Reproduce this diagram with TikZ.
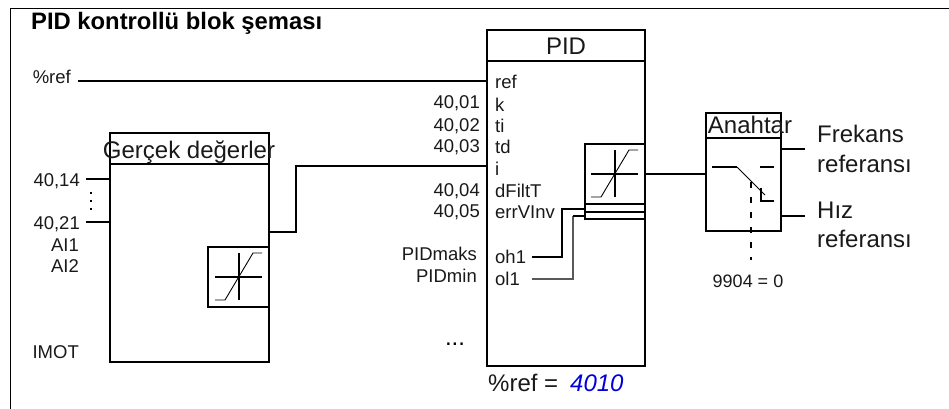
\documentclass[tikz,border=0pt]{standalone}
\usepackage{fontspec}
\setmainfont{Liberation Sans}
\tikzset{
  x=1pt,y=-1pt,
  thk/.style={line width=1.5pt,draw=black},
  boxs/.style={draw=black,line width=1.5pt,inner sep=0pt},
  wire/.style={line width=1.4pt,draw=black,line cap=butt},
  thinw/.style={line width=0.8pt,draw=black},
  lab/.style={inner sep=0pt,font=\fontsize{18.5}{18.5}\selectfont,text=black!90},
  rl/.style={lab,anchor=base east},
  ll/.style={lab,anchor=base west},
  big/.style={inner sep=0pt,font=\fontsize{24}{24}\selectfont,text=black!90},
}
\newcommand{\satur}[2]{% centre x,y
  \draw[line width=1.4pt] (#1,#2-24) -- (#1,#2+23);
  \draw[line width=1.4pt] (#1-24,#2) -- (#1+23,#2);
  \draw[line width=0.9pt] (#1-24,#2+23) -- (#1-14,#2+23) -- (#1+14,#2-24) -- (#1+23,#2-24);
}
\begin{document}
\begin{tikzpicture}
\useasboundingbox (0,0) rectangle (949,409);
\draw[line width=1pt] (10.5,409) -- (10.5,8.5) -- (949,8.5);
\node[anchor=base west,inner sep=0pt,font=\fontsize{23.8}{24}\selectfont\bfseries] (title) at (31,30) {PID kontrollü blok şeması};
% Actual values block
\node[boxs,minimum width=159pt,minimum height=229pt] (av) at (189.5,247.5) {};
\coordinate (avsplit1) at (110,164); \coordinate (avsplit2) at (269,164);
\draw[thk] (avsplit1) -- (avsplit2);
\node[big,anchor=base] (avt) at (189,158) {Gerçek değerler};
\node[boxs,minimum width=61pt,minimum height=60pt] (avs) at (238.5,277) {};
\satur{239}{277}
\node[rl] (a1) at (80,186) {40,14};
\node[rl] (a2) at (80,229) {40,21};
\node[rl] (a3) at (79,251) {AI1};
\node[rl] (a4) at (79,272) {AI2};
\node[rl] (a5) at (79,358) {IMOT};
\coordinate (a1e) at (86,179); \coordinate (a1i) at (110,179);
\coordinate (a2e) at (86,222); \coordinate (a2i) at (110,222);
\draw[wire] (a1e) -- (a1i);
\draw[wire] (a2e) -- (a2i);
\coordinate (vd1) at (91,192); \coordinate (vd2) at (91,212);
\draw[line width=1.3pt,dash pattern=on 2pt off 6pt] (vd1) -- (vd2);
% PID block
\node[boxs,minimum width=158pt,minimum height=336pt] (pid) at (566,198) {};
\coordinate (ps1) at (487,61); \coordinate (ps2) at (645,61);
\draw[thk] (ps1) -- (ps2);
\node[big,anchor=base] (pidt) at (566,55) {PID};
\foreach \n/\t/\y in {r/ref/89,k/k/111,ti/ti/132,td/td/153,i/i/175,d/dFiltT/197,e/errVInv/218,o/oh1/263,l/ol1/285}
  \node[ll] (p\n) at (495,\y) {\t};
\foreach \n/\y in {1/109,2/131,3/152,4/196,5/217}
  \node[rl] (q\n) at (480,\y) {40,0\n};
\node[rl] (pm) at (477,260) {PIDmaks};
\node[rl] (pn) at (477,282) {PIDmin};
\node[anchor=base,inner sep=0pt,font=\fontsize{24}{24}\selectfont] (dots) at (455,345) {...};
% saturation in PID
\node[boxs,minimum width=60pt,minimum height=60pt] (ps) at (615,174) {};
\satur{615}{174}
\node[boxs,minimum width=60pt,minimum height=15pt] (pb) at (615,211.5) {};
\coordinate (pbm1) at (585,212); \coordinate (pbm2) at (645,212);
\draw[thk] (pbm1) -- (pbm2);
% Wires
\node[lab,anchor=base east] (pr) at (71,84) {\%ref};
\coordinate (rs) at (78,81); \coordinate (re) at (487,81);
\draw[wire] (rs) -- (re);
\coordinate (av1) at (269,232); \coordinate (av2) at (296,232); \coordinate (av3) at (296,166); \coordinate (pi) at (487,166);
\draw[wire] (av1) -- (av2) -- (av3) -- (pi);
\coordinate (oh) at (532,257); \coordinate (oh2) at (562,257); \coordinate (oh3) at (562,209); \coordinate (oh4) at (585,209);
\draw[wire] (oh) -- (oh2) -- (oh3) -- (oh4);
\coordinate (ol) at (532,279); \coordinate (ol2) at (573,279); \coordinate (ol3) at (573,216); \coordinate (ol4) at (585,216);
\draw[line width=1.1pt,draw=black!65] (ol) -- (ol2) -- (ol3);
\draw[wire] (ol3) -- (ol4);
\node[anchor=base west,inner sep=0pt,font=\fontsize{24}{24}\selectfont,text=black!90] (pe) at (488,391) {\%ref =};
\node[anchor=base west,inner sep=0pt,font=\fontsize{24}{24}\selectfont\itshape,text=blue!85!black] (pv) at (570,391) {4010};
% Switch
\node[boxs,minimum width=75pt,minimum height=118pt] (sw) at (743.5,172) {};
\coordinate (sws1) at (706,138); \coordinate (sws2) at (781,138);
\draw[thk] (sws1) -- (sws2);
\node[big,anchor=base] (swt) at (750,133) {Anahtar};
\coordinate (pout) at (645,174); \coordinate (swin) at (706,174);
\draw[wire] (pout) -- (swin);
\coordinate (c1) at (712,167); \coordinate (c2) at (737,167); \coordinate (c3) at (765,195);
\draw[wire] (c1) -- (c2);
\draw[thinw] (c2) -- (c3);
\coordinate (c4) at (760,167); \coordinate (c5) at (774,167);
\draw[wire] (c4) -- (c5);
\coordinate (c6) at (761,188); \coordinate (c7) at (761,201); \coordinate (c8) at (774,201);
\draw[wire] (c6) -- (c7) -- (c8);
\coordinate (d1) at (751,182); \coordinate (d2) at (751,260);
\draw[line width=2pt,dash pattern=on 6pt off 9pt] (d1) -- (d2);
\node[anchor=base,inner sep=0pt,font=\fontsize{18}{18}\selectfont,text=black!90] (sv) at (748,287) {9904 = 0};
\coordinate (o1a) at (781,149); \coordinate (o1b) at (805,149);
\coordinate (o2a) at (781,216); \coordinate (o2b) at (805,216);
\draw[wire] (o1a) -- (o1b);
\draw[wire] (o2a) -- (o2b);
\foreach \n/\t/\y in {f/Frekans/142,g/referansı/172,h/Hız/218,j/referansı/247}
  \node[anchor=base west,inner sep=0pt,font=\fontsize{24}{24}\selectfont,text=black!90] (\n) at (817,\y) {\t};
\end{tikzpicture}
\end{document}
